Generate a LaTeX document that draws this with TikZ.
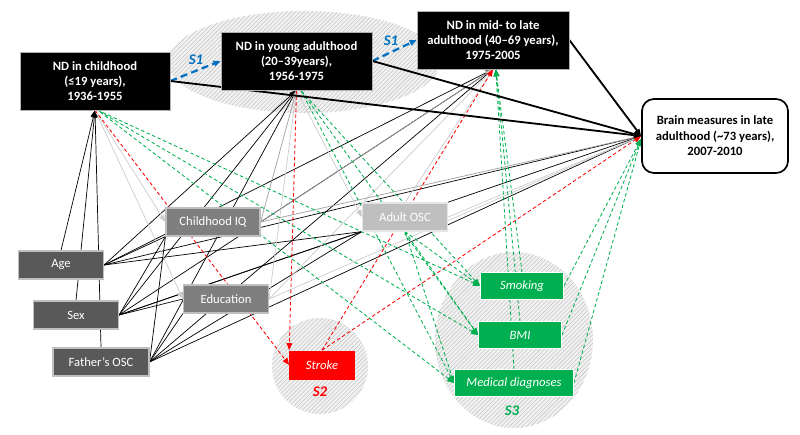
\documentclass[tikz,border=0pt]{standalone}
\usepackage{fontspec}
\setmainfont{Carlito}
\usetikzlibrary{arrows.meta,patterns,backgrounds}

\definecolor{sblue}{HTML}{0070C0}
\definecolor{sgreen}{HTML}{00B050}
\definecolor{sred}{HTML}{FF0000}
\definecolor{darkbox}{HTML}{595959}
\definecolor{midbox}{HTML}{7F7F7F}
\definecolor{lightbox}{HTML}{BFBFBF}

\tikzset{
  ndbox/.style={draw=gray!60, fill=black, text=white, align=center, inner sep=0pt,
    font=\bfseries\fontsize{9}{10.6}\selectfont, minimum height=1.45cm},
  brainbox/.style={draw=black, line width=1.2pt, fill=white, rounded corners=0.3cm, align=center,
    inner sep=0pt, font=\bfseries\fontsize{9}{11}\selectfont, minimum width=3.65cm, minimum height=1.85cm},
  covbox/.style={draw=lightbox, line width=0.8pt, text=white, inner sep=0pt,
    font=\fontsize{9}{10}\selectfont, minimum height=0.7cm},
  strokebox/.style={fill=sred, text=white, inner sep=0pt, font=\itshape\fontsize{9}{10}\selectfont,
    minimum width=1.625cm, minimum height=0.725cm},
  lifebox/.style={fill=sgreen, draw=white, line width=0.6pt, text=white, inner sep=0pt,
    font=\itshape\fontsize{9}{10}\selectfont, minimum height=0.66cm},
  slabel/.style={font=\bfseries\itshape\fontsize{10.5}{12}\selectfont},
  hatchzone/.style={fill=gray!10, postaction={pattern=north east lines, pattern color=gray!45}},
  tipped/.style={-{Triangle[length=5pt, width=4pt]}},
  plainline/.style={line width=0.5pt, black},
  blackline/.style={tipped, line width=0.5pt, black},
  greyline/.style={tipped, line width=0.5pt, gray!75},
  paleline/.style={tipped, line width=0.5pt, gray!40},
  redline/.style={tipped, line width=0.6pt, sred, dash pattern=on 2.5pt off 1.8pt},
  greenline/.style={tipped, line width=0.6pt, sgreen, dash pattern=on 2.5pt off 1.8pt},
  mainline/.style={tipped, line width=1.3pt, black},
  s1line/.style={tipped, line width=1.6pt, sblue, dash pattern=on 5pt off 3pt}
}

\begin{document}
\begin{tikzpicture}[x=0.025cm, y=-0.025cm]
\useasboundingbox (0,0) rectangle (800,434);

% life periods
\node[ndbox, minimum width=3.75cm] (child) at (95,81) {ND in childhood\\(≤19 years),\\1936-1955};
\node[ndbox, minimum width=3.78cm] (young) at (296.5,61) {ND in young adulthood\\(20–39years),\\1956-1975};
\node[ndbox, minimum width=3.8cm] (late) at (493,40) {ND in mid- to late\\adulthood (40–69 years),\\1975-2005};
\node[brainbox] (brain) at (715,136) {Brain measures in late\\adulthood (\textasciitilde73 years),\\2007-2010};

% covariates
\node[covbox, fill=darkbox, minimum width=2.125cm] (age) at (61,265) {Age};
\node[covbox, fill=darkbox, minimum width=2.125cm] (sex) at (76,315) {Sex};
\node[covbox, fill=darkbox, minimum width=2.4cm] (fosc) at (101,362) {Father’s OSC};
\node[covbox, fill=midbox, minimum width=2.35cm] (iq) at (213,222) {Childhood IQ};
\node[covbox, fill=midbox, minimum width=2.125cm] (edu) at (226,299) {Education};
\node[covbox, fill=lightbox, draw=gray!20, minimum width=2.125cm] (aosc) at (405,217) {Adult OSC};

% sensitivity analyses
\node[strokebox] (stroke) at (322,365) {Stroke};
\node[lifebox, minimum width=2.075cm] (smoke) at (522,286) {Smoking};
\node[lifebox, minimum width=2.075cm] (bmi) at (520,335) {BMI};
\node[lifebox, minimum width=2.975cm] (medic) at (514,383) {Medical diagnoses};

\node[slabel, text=sblue] (sa) at (196,60) {S1};
\node[slabel, text=sblue] (sb) at (391,41) {S1};
\node[slabel, text=sred] (sc) at (320,392) {S2};
\node[slabel, text=sgreen] (sd) at (512,411) {S3};

\begin{pgfonlayer}{background}
\path[hatchzone] (304,62) ellipse [x radius=3.4cm, y radius=1.275cm];
\path[hatchzone] (320,366) circle [radius=1.2cm];
\path[hatchzone] (514,340) ellipse [x radius=1.975cm, y radius=2.2cm];

\foreach \s in {age,sex,fosc} {
  \draw[blackline] (\s.north) -- (child.south);
  \draw[blackline] (\s.east) -- (young.south);
  \draw[blackline] (\s.east) -- (late.south);
  \draw[blackline] (\s.east) -- (brain.west);
  \draw[plainline] (\s.east) -- (iq.south west);
  \draw[plainline] (\s.east) -- (aosc.south west);
}
\draw[plainline] (sex.east) -- (edu.west);
\draw[plainline] (fosc.east) -- (edu.south west);

\foreach \t in {young.south,late.south,brain.west} {
  \draw[greyline] (iq.east) -- (\t);
  \draw[paleline] (edu.east) -- (\t);
}
\draw[paleline] (aosc.north) -- (late.south);
\draw[paleline] (aosc.east) -- (brain.west);
\draw[paleline] (child.south) -- (iq.west);
\draw[paleline] (child.south) -- (edu.west);
\draw[paleline] (young.south) -- (aosc.west);

\draw[redline] (child.south) -- (stroke.west);
\draw[redline] (young.south) -- (stroke.north west);
\draw[redline] (stroke.north) -- (late.south);
\draw[redline] (stroke.north) -- (brain.west);

\foreach \b in {smoke,bmi,medic} {
  \draw[greenline] (\b.north) -- ([xshift=2pt]late.south);
  \draw[greenline] (\b.east) -- ([yshift=-2pt]brain.west);
  \draw[greenline, {Triangle[length=5pt, width=4pt]}-] (\b.west) -- ([xshift=2pt]child.south);
  \draw[greenline, {Triangle[length=5pt, width=4pt]}-] (\b.west) -- ([xshift=3pt]young.south);
  \draw[greenline] (aosc.south) -- (\b.west);
}

\draw[s1line] (child.east) -- (young.west);
\draw[s1line] (young.east) -- (late.west);
\draw[mainline] (child.east) -- (brain.west);
\draw[mainline] (young.east) -- (brain.west);
\draw[mainline] (late.east) -- (brain.west);
\end{pgfonlayer}
\end{tikzpicture}
\end{document}
